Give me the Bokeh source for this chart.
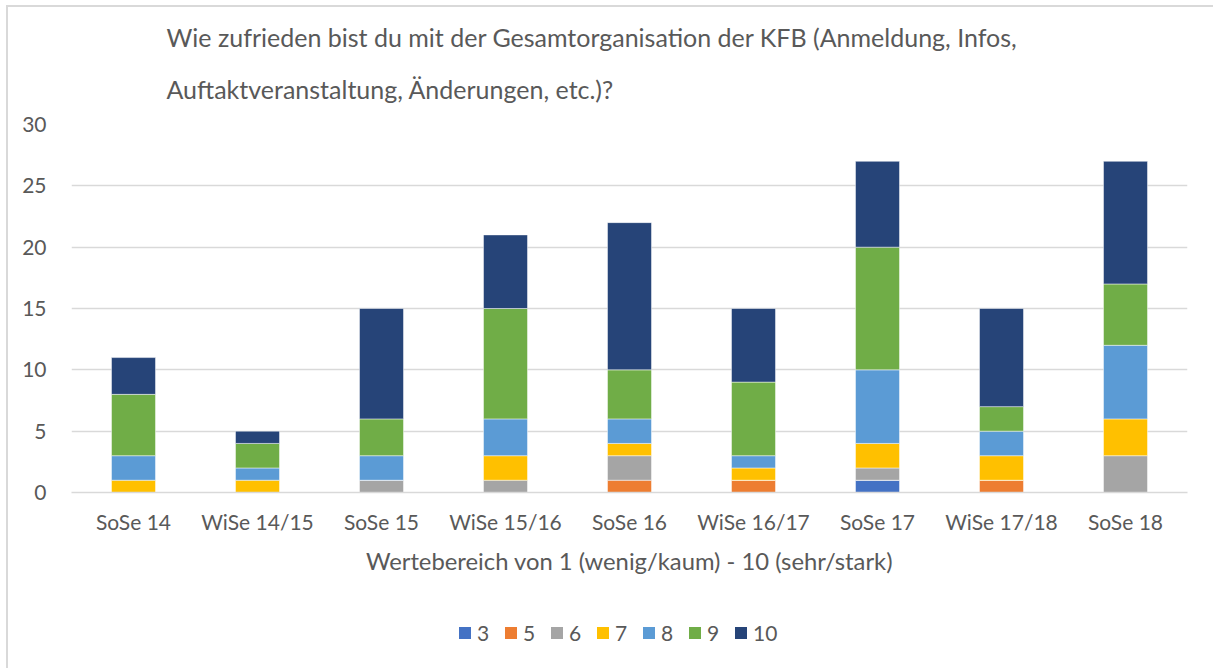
from bokeh.plotting import figure
from bokeh.models import FactorRange, FixedTicker, Legend, LegendItem, Title
from bokeh.layouts import column
from bokeh.embed import file_html
from bokeh.resources import INLINE

semesters = ["SoSe 14", "WiSe 14/15", "SoSe 15", "WiSe 15/16", "SoSe 16",
             "WiSe 16/17", "SoSe 17", "WiSe 17/18", "SoSe 18"]
ratings = ["3", "5", "6", "7", "8", "9", "10"]
r3 = [0, 0, 0, 0, 0, 0, 1, 0, 0]
r5 = [0, 0, 0, 0, 1, 1, 0, 1, 0]
r6 = [0, 0, 1, 1, 2, 0, 1, 0, 3]
r7 = [1, 1, 0, 2, 1, 1, 2, 2, 3]
r8 = [2, 1, 2, 3, 2, 1, 6, 2, 6]
r9 = [5, 2, 3, 9, 4, 6, 10, 2, 5]
r10 = [3, 1, 9, 6, 12, 6, 7, 8, 10]
y_ticks = [0, 5, 10, 15, 20, 25, 30]
title_lines = ["Wie zufrieden bist du mit der Gesamtorganisation der KFB (Anmeldung, Infos,",
               "Auftaktveranstaltung, Änderungen, etc.)?"]
x_title = "Wertebereich von 1 (wenig/kaum) - 10 (sehr/stark)"

colors = ["#4472C4", "#ED7D31", "#A5A5A5", "#FFC000", "#5B9BD5", "#70AD47", "#264478"]
FONT = "Lato"
TXT = "#595959"
GRID = "#D9D9D9"

data = {"sem": semesters, "3": r3, "5": r5, "6": r6, "7": r7, "8": r8, "9": r9, "10": r10}

W, H_MAIN, H_LEG = 1213, 610, 58
p = figure(x_range=FactorRange(*semesters, range_padding=0), y_range=(0, 30),
           width=W, height=H_MAIN, output_backend="svg", toolbar_location=None,
           min_border_left=71, min_border_right=26, min_border_top=124,
           min_border_bottom=H_MAIN - 492)
p.x_range.range_padding = 0
p.border_fill_alpha = 0

renderers = p.vbar_stack(ratings, x="sem", width=0.355, source=data, color=colors,
                         line_color="white", line_alpha=0.6, line_width=0.8)

p.outline_line_color = None
p.xgrid.grid_line_color = None
p.ygrid.grid_line_color = GRID
p.ygrid.grid_line_width = 1.5
p.yaxis.ticker = FixedTicker(ticks=y_ticks)
p.yaxis.axis_line_color = None
p.yaxis.major_tick_line_color = None
p.yaxis.minor_tick_line_color = None
p.yaxis.major_label_standoff = 19
p.xaxis.axis_line_color = GRID
p.xaxis.axis_line_width = 1.5
p.xaxis.major_tick_line_color = None
p.xaxis.major_label_standoff = 10
for ax in (p.xaxis, p.yaxis):
    ax.major_label_text_font = FONT
    ax.major_label_text_font_size = "21px"
    ax.major_label_text_color = TXT
p.xaxis.axis_label = x_title
p.xaxis.axis_label_text_font = FONT
p.xaxis.axis_label_text_font_size = "23.8px"
p.xaxis.axis_label_text_font_style = "normal"
p.xaxis.axis_label_text_color = TXT
p.xaxis.axis_label_standoff = 10

# title lines: later-added title sits further from the frame
p.add_layout(Title(text=title_lines[1], align="left", offset=95, standoff=41,
                   text_font=FONT, text_font_size="25px", text_color=TXT,
                   text_font_style="normal"), "above")
p.add_layout(Title(text=title_lines[0], align="left", offset=95, standoff=0,
                   text_font=FONT, text_font_size="25px", text_color=TXT,
                   text_font_style="normal"), "above")

# legend strip: a second figure whose zero-height proxies carry only the legend swatches
q = figure(x_range=(0, 1), y_range=(0, 1), width=W, height=H_LEG, output_backend="svg",
           toolbar_location=None, min_border=0, min_border_left=0, min_border_right=0,
           min_border_top=0, min_border_bottom=0)
q.axis.visible = False
q.grid.visible = False
q.outline_line_color = None
q.border_fill_alpha = 0
q.background_fill_alpha = 0
swatches = [q.vbar(x=[0], top=[0], bottom=[0], width=0, color=c, line_alpha=0)
            for c in colors]
items = [LegendItem(label=r, renderers=[sw]) for r, sw in zip(ratings, swatches)]
legend = Legend(items=items, orientation="horizontal", location=(386, 23),
                glyph_width=15, glyph_height=15, label_standoff=5, spacing=6, label_width=20,
                padding=0, margin=0, border_line_color=None, background_fill_alpha=0,
                label_text_font=FONT, label_text_font_size="21px", label_text_color=TXT)
q.add_layout(legend, "center")

layout = column(p, q, spacing=0)
layout.styles = {
    "background-image": f"linear-gradient({GRID},{GRID}), linear-gradient({GRID},{GRID})",
    "background-size": "1207px 2px, 2px 663px",
    "background-position": "6px 5px, 6px 5px",
    "background-repeat": "no-repeat",
}

open("out.html", "w").write(file_html(layout, INLINE))
